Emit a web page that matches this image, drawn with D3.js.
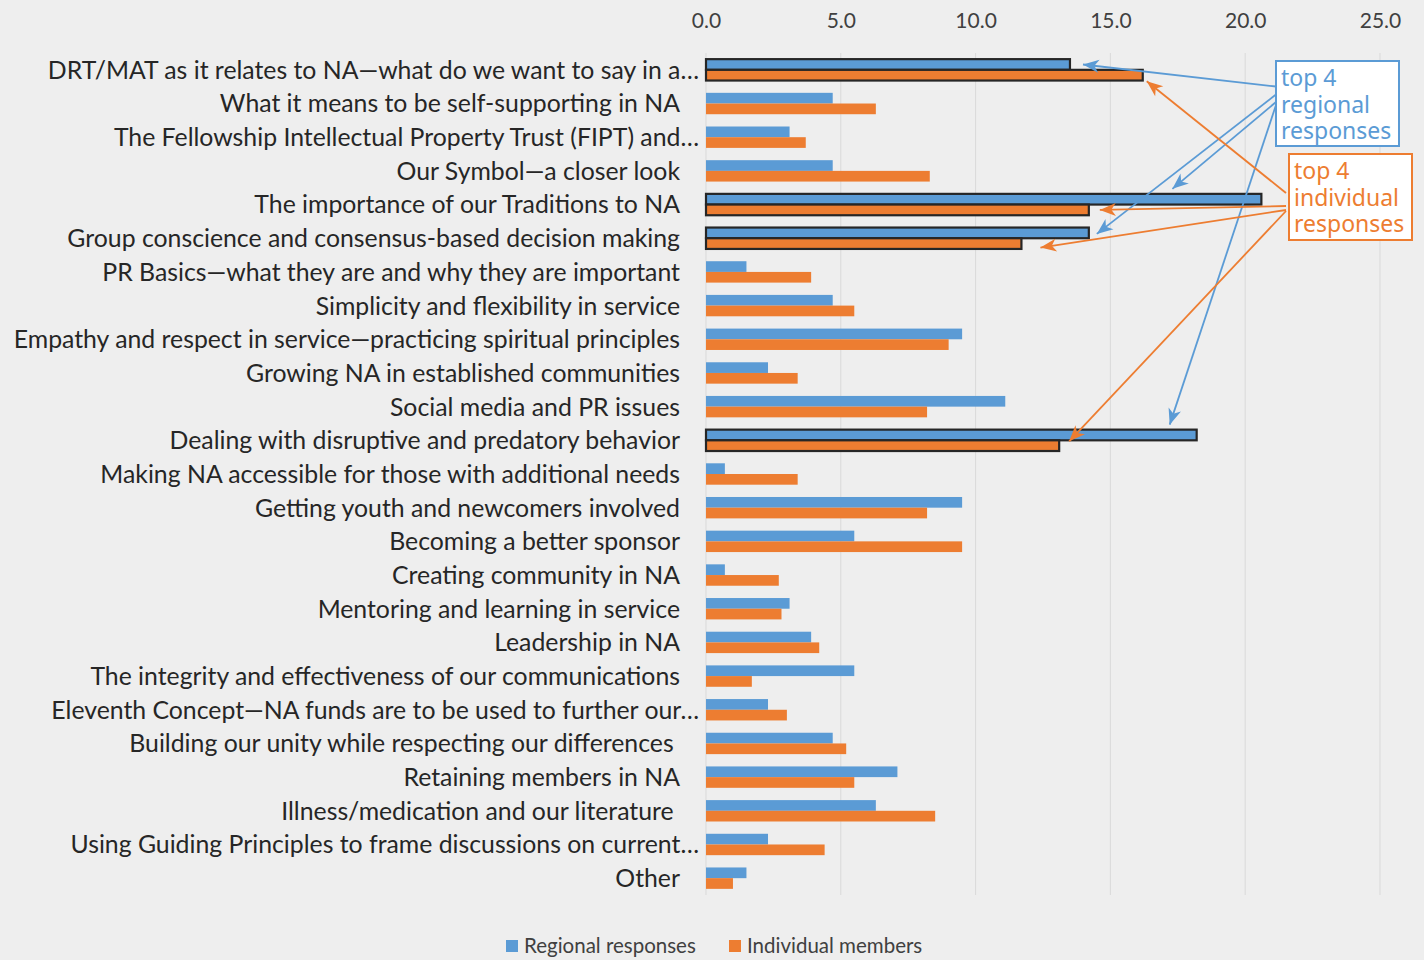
<!DOCTYPE html>
<html lang="en">
<head>
  <meta charset="UTF-8">
  <title>Workshop topics</title>
  <script src="https://d3js.org/d3.v7.min.js"></script>
  <style>
    body { margin: 0; background: #eeeeee; }
    text { white-space: pre; }
  </style>
</head>
<body>
  <svg id="chart" width="1424" height="960"></svg>

  <script>
    // Categories, top to bottom
    const categories = [
      "DRT/MAT as it relates to NA\u2014what do we want to say in a\u2026",
      "What it means to be self-supporting in NA",
      "The Fellowship Intellectual Property Trust (FIPT) and\u2026",
      "Our Symbol\u2014a closer look",
      "The importance of our Traditions to NA",
      "Group conscience and consensus-based decision making",
      "PR Basics\u2014what they are and why they are important",
      "Simplicity and flexibility in service",
      "Empathy and respect in service\u2014practicing spiritual principles",
      "Growing NA in established communities",
      "Social media and PR issues",
      "Dealing with disruptive and predatory behavior",
      "Making NA accessible for those with additional needs",
      "Getting youth and newcomers involved",
      "Becoming a better sponsor",
      "Creating community in NA",
      "Mentoring and learning in service",
      "Leadership in NA",
      "The integrity and effectiveness of our communications",
      "Eleventh Concept\u2014NA funds are to be used to further our\u2026",
      "Building our unity while respecting our differences ",
      "Retaining members in NA",
      "Illness/medication and our literature ",
      "Using Guiding Principles to frame discussions on current\u2026",
      "Other"
    ];

    // Percentages
    const regional = [13.5, 4.7, 3.1, 4.7, 20.6, 14.2, 1.5, 4.7, 9.5, 2.3, 11.1, 18.2, 0.7,
                      9.5, 5.5, 0.7, 3.1, 3.9, 5.5, 2.3, 4.7, 7.1, 6.3, 2.3, 1.5];
    const individual = [16.2, 6.3, 3.7, 8.3, 14.2, 11.7, 3.9, 5.5, 9.0, 3.4, 8.2, 13.1, 3.4,
                        8.2, 9.5, 2.7, 2.8, 4.2, 1.7, 3.0, 5.2, 5.5, 8.5, 4.4, 1.0];

    const highlighted = [
      "DRT/MAT as it relates to NA\u2014what do we want to say in a\u2026",
      "The importance of our Traditions to NA",
      "Group conscience and consensus-based decision making",
      "Dealing with disruptive and predatory behavior"
    ];

    const xTicks = [0, 5, 10, 15, 20, 25];
    const seriesNames = ["Regional responses", "Individual members"];
    const colors = ["#5b9bd5", "#ed7d31"];

    // Callout arrows: which bar they point at (series 0/1), optional value along the bar
    const regionalArrows = [
      { cat: 0, series: 0, dx: 13, dy: 0, start: 86.5 },
      { cat: 4, series: 0, at: 17.3, edge: "top", start: 102 },
      { cat: 5, series: 0, dx: 8, dy: 1, start: 94.5 },
      { cat: 11, series: 0, at: 17.2, edge: "top", start: 105 }
    ];
    const individualArrows = [
      { cat: 0, series: 1, dx: 4, dy: 6, start: 193 },
      { cat: 4, series: 1, dx: 11, dy: 0, start: 206 },
      { cat: 5, series: 1, dx: 19, dy: 4, start: 210 },
      { cat: 11, series: 1, edge: "top", dx: 10, dy: 1, start: 211 }
    ];

    const svg = d3.select("#chart");
    const fontStack = "Lato, 'Open Sans', sans-serif";

    const x = d3.scaleLinear().domain([0, 25]).range([706, 1380]);
    const y = d3.scaleBand().domain(categories).range([53, 895])
      .paddingInner(0.365).paddingOuter(0.1825);
    const ySub = d3.scaleBand().domain([0, 1]).range([0, y.bandwidth()]);

    // gridlines
    svg.append("g")
      .selectAll("line")
      .data(xTicks)
      .join("line")
      .attr("x1", d => x(d)).attr("x2", d => x(d))
      .attr("y1", 53).attr("y2", 895)
      .attr("stroke", "#d9d9d9")
      .attr("stroke-width", 1);

    // top axis labels
    const xAxis = d3.axisTop(x).tickValues(xTicks).tickFormat(d3.format(".1f")).tickSize(0).tickPadding(0);
    const axisG = svg.append("g").attr("transform", "translate(0,28)").call(xAxis);
    axisG.select(".domain").remove();
    axisG.selectAll("text")
      .attr("font-family", fontStack)
      .attr("font-size", 21)
      .attr("fill", "#404040");

    // category labels
    svg.append("g")
      .selectAll("text")
      .data(categories)
      .join("text")
      .attr("x", d => d.endsWith("\u2026") ? 699 : 680)
      .attr("y", d => y(d) + y.bandwidth() / 2)
      .attr("dy", "0.36em")
      .attr("text-anchor", "end")
      .attr("font-family", fontStack)
      .attr("font-size", 24.8)
      .attr("fill", "#262626")
      .text(d => d);

    // bars
    const rows = categories.map((c, i) => ({ cat: c, values: [regional[i], individual[i]], hl: highlighted.includes(c) }));
    const rowG = svg.append("g")
      .selectAll("g")
      .data(rows)
      .join("g")
      .attr("transform", d => `translate(0,${y(d.cat)})`);

    rowG.selectAll("rect")
      .data(d => d.values.map((v, s) => ({ v, s, hl: d.hl })))
      .join("rect")
      .attr("x", x(0))
      .attr("y", d => ySub(d.s))
      .attr("width", d => x(d.v) - x(0))
      .attr("height", ySub.bandwidth())
      .attr("fill", d => colors[d.s])
      .attr("stroke", d => d.hl ? "#262626" : "none")
      .attr("stroke-width", 2.2);

    // arrow markers
    const defs = svg.append("defs");
    colors.forEach((c, i) => {
      defs.append("marker")
        .attr("id", "head" + i)
        .attr("markerUnits", "userSpaceOnUse")
        .attr("viewBox", "-17 -8 18 16")
        .attr("refX", 0).attr("refY", 0)
        .attr("markerWidth", 18).attr("markerHeight", 16)
        .attr("orient", "auto")
        .append("path")
        .attr("d", "M0,0 L-16,-6.5 L-11.5,0 L-16,6.5 Z")
        .attr("fill", c);
    });

    function tip(a) {
      const cat = categories[a.cat];
      const val = a.series === 0 ? regional[a.cat] : individual[a.cat];
      const top = y(cat) + ySub(a.series);
      let tx, ty;
      if (a.at !== undefined) {
        tx = x(a.at);
        ty = top - 5;
      } else {
        tx = x(val) + a.dx;
        ty = (a.edge === "top" ? top : top + ySub.bandwidth() / 2) + a.dy;
      }
      return [tx, ty];
    }

    const boxes = [
      { x: 1276, y: 61, w: 123, h: 85, lines: ["top 4", "regional", "responses"], color: colors[0], arrows: regionalArrows, edge: 1276 },
      { x: 1289, y: 154, w: 123, h: 86, lines: ["top 4", "individual", "responses"], color: colors[1], arrows: individualArrows, edge: 1286 }
    ];

    boxes.forEach((b, bi) => {
      const g = svg.append("g");
      g.selectAll("line")
        .data(b.arrows)
        .join("line")
        .attr("x1", b.edge)
        .attr("y1", d => d.start)
        .attr("x2", d => tip(d)[0])
        .attr("y2", d => tip(d)[1])
        .attr("stroke", b.color)
        .attr("stroke-width", 1.8)
        .attr("marker-end", `url(#head${bi})`);
    });

    boxes.forEach(b => {
      const g = svg.append("g");
      g.append("rect")
        .attr("x", b.x).attr("y", b.y)
        .attr("width", b.w).attr("height", b.h)
        .attr("fill", "#ffffff")
        .attr("stroke", b.color)
        .attr("stroke-width", 2);
      g.selectAll("text")
        .data(b.lines)
        .join("text")
        .attr("x", b.x + 5)
        .attr("y", (d, i) => b.y + 25 + i * 26.5)
        .attr("font-family", "'Noto Sans', 'Open Sans', sans-serif")
        .attr("font-size", 23)
        .attr("fill", b.color)
        .text(d => d);
    });

    // legend
    const legend = svg.append("g").attr("transform", "translate(506,940)");
    const legendX = [0, 223];
    seriesNames.forEach((name, i) => {
      legend.append("rect")
        .attr("x", legendX[i]).attr("y", 0)
        .attr("width", 12).attr("height", 12)
        .attr("fill", colors[i]);
      legend.append("text")
        .attr("x", legendX[i] + 18)
        .attr("y", 6)
        .attr("dy", "0.36em")
        .attr("font-family", fontStack)
        .attr("font-size", 20.5)
        .attr("fill", "#404040")
        .text(name);
    });
  </script>
</body>
</html>
